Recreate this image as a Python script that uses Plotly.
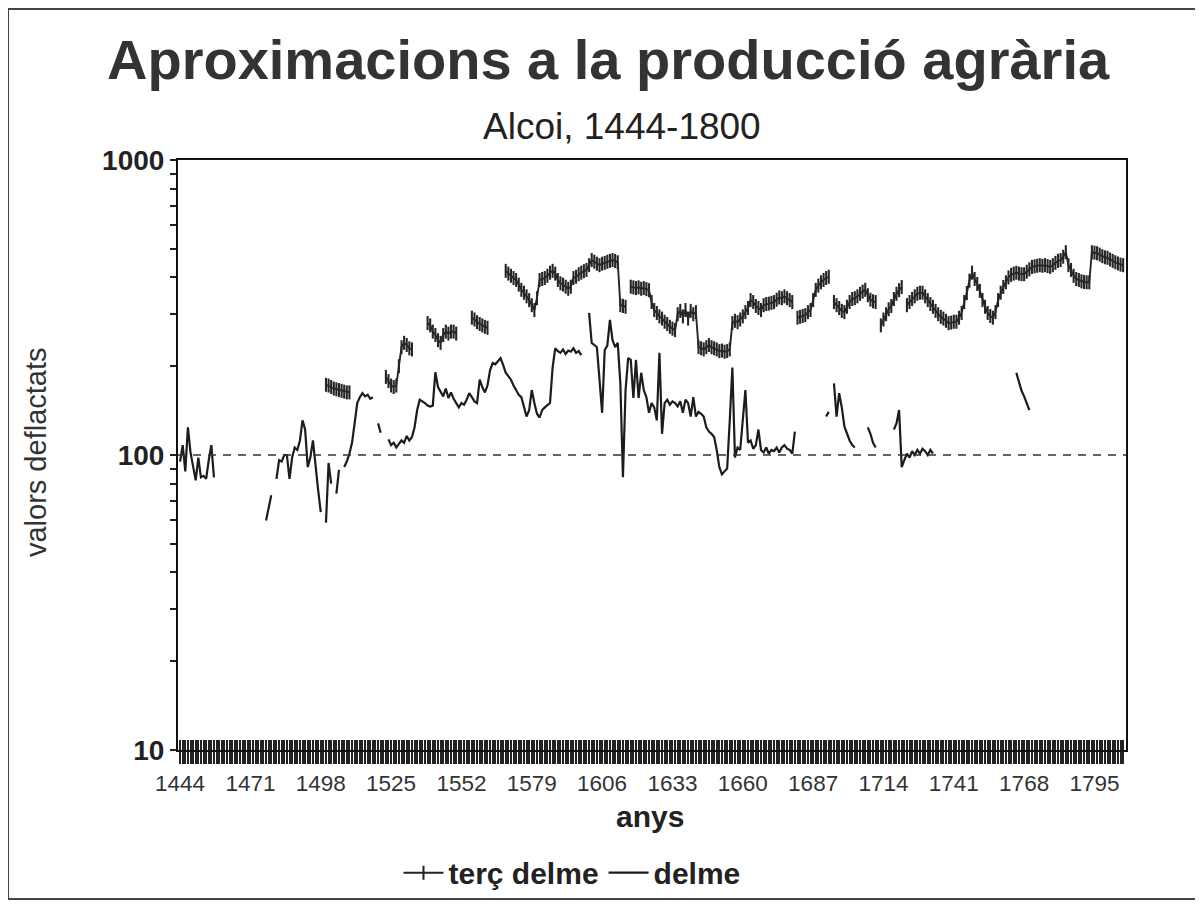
import plotly.graph_objects as go

# ---------------- data ----------------
first_year = 1444
last_year = 1806
label_years = [1444, 1471, 1498, 1525, 1552, 1579, 1606, 1633, 1660, 1687, 1714, 1741, 1768, 1795]
y_major = [10, 100, 1000]
y_minor = [20, 30, 40, 50, 60, 70, 80, 90, 200, 300, 400, 500, 600, 700, 800, 900]
reference_level = 100

# "terç delme" segments: (start year, yearly values)
terc_s1 = (1500, [173, 172, 170, 168, 167, 166, 165, 164, 163, 163])
terc_s2 = (1523, [184, 178, 172, 170, 172, 200, 232, 240, 236, 230, 228])
terc_s3 = (1539, [280, 275, 262, 255, 245, 240, 255, 262, 258, 262, 262, 258])
terc_s4 = (1556, [292, 288, 282, 278, 275, 272, 270])
terc_s5 = (1569, [421, 412, 405, 398, 392, 378, 363, 355, 345, 335,
                  322, 310, 340, 392, 395, 398, 405, 415, 421, 412,
                  392, 382, 378, 372, 366, 372, 398, 402, 410, 415,
                  420, 424, 440, 458, 452, 445, 440, 445, 448, 452,
                  455, 458, 455, 450, 322, 320, 318])
terc_s6 = (1617, [372, 370, 368, 370, 366, 368, 365, 362, 330, 310,
                  303, 295, 290, 283, 278, 272, 268, 265, 300, 308,
                  295, 310, 290, 308, 300, 305])
terc_s7 = (1643, [232, 230, 228, 232, 236, 232, 230, 228, 225, 226,
                  224, 225, 228, 280, 285, 282, 288, 295, 305, 315,
                  335, 330, 320, 315, 310, 322, 325, 326, 328, 330,
                  336, 342, 340, 345, 340, 335, 330])
terc_s8 = (1681, [292, 294, 296, 298, 305, 310, 335, 363, 375, 385, 392, 398, 402])
terc_s9 = (1695, [330, 322, 315, 308, 305, 318, 330, 338, 340, 345, 352, 358, 363, 348, 336, 332, 330])
terc_s10 = (1713, [275, 288, 300, 312, 320, 338, 352, 362, 371])
terc_s11 = (1723, [322, 330, 338, 345, 352, 355, 355, 345, 335, 325,
                   318, 308, 300, 294, 290, 285, 280, 281, 283, 283,
                   292, 303, 330, 354, 390, 415, 395, 380, 360, 335,
                   318, 303, 296, 292, 305, 335, 355, 371, 385, 400,
                   408, 412, 415, 412, 410, 410, 418, 426, 434, 436,
                   438, 440, 438, 440, 437, 434, 440, 448, 455, 458,
                   470, 487, 440, 424, 405, 395, 392, 388, 386, 385,
                   385, 487, 485, 483, 478, 472, 468, 466, 460, 455,
                   450, 446, 442, 440])

# "delme" segments
delme_s1 = (1444, [95, 108, 88, 124, 102, 90, 82, 98, 84, 85, 83, 96, 108, 84])
delme_s2 = (1477, [60, 66, 73])
delme_s3 = (1481, [83, 96, 95, 100, 100, 83, 98, 106, 104, 112, 131, 122, 91, 98, 112, 91, 76, 64])
delme_s4 = (1500, [59, 94, 80])
delme_s5 = (1504, [74, 89])
delme_s6 = (1507, [91, 95, 101, 110, 128, 150, 157, 162, 158, 160, 155, 157])
delme_s7 = (1520, [128, 119])
delme_s8 = (1524, [113, 108, 110, 106, 109, 112, 110, 116, 112, 115,
                   124, 142, 154, 152, 150, 147, 146, 147, 191, 170,
                   163, 158, 168, 156, 163, 155, 150, 145, 150, 148,
                   154, 162, 157, 152, 150, 180, 170, 163, 172, 194,
                   205, 203, 208, 213, 202, 190, 185, 180, 172, 166,
                   160, 157, 145, 135, 142, 166, 150, 138, 134, 142,
                   145, 147, 150, 198, 230, 225, 222, 228, 220, 226,
                   224, 230, 222, 225, 218])
delme_s9 = (1601, [303, 240, 236, 232, 180, 139, 227, 235, 287, 245,
                   232, 240, 175, 84, 166, 213, 210, 156, 210, 156,
                   190, 166, 157, 139, 150, 145, 131, 222, 118, 150,
                   154, 148, 152, 150, 146, 152, 139, 154, 150, 135,
                   157, 135, 140, 138, 135, 124, 120, 118, 115, 104,
                   91, 86, 88, 90, 131, 198, 98, 106, 104, 128,
                   166, 110, 112, 105, 108, 122, 104, 102, 106, 101,
                   104, 103, 106, 102, 106, 108, 105, 104, 101, 120])
delme_s10 = (1692, [135, 140])
delme_s11 = (1695, [175, 135, 162, 145, 125, 118, 112, 108, 106])
delme_s12 = (1708, [124, 118, 110, 106])
delme_s13 = (1718, [122, 128, 142, 91, 96, 101, 98, 103, 100, 104, 101, 105, 103, 100, 104, 101])
delme_s14 = (1765, [190, 178, 165, 158, 150, 142])

terc_segments = [terc_s1, terc_s2, terc_s3, terc_s4, terc_s5, terc_s6,
                 terc_s7, terc_s8, terc_s9, terc_s10, terc_s11]
delme_segments = [delme_s1, delme_s2, delme_s3, delme_s4, delme_s5, delme_s6, delme_s7,
                  delme_s8, delme_s9, delme_s10, delme_s11, delme_s12, delme_s13, delme_s14]

years = list(range(first_year, last_year + 1))


def build(segments):
    vals = {y: None for y in years}
    for start, seg in segments:
        for i, v in enumerate(seg):
            vals[start + i] = v
    return [vals[y] for y in years]


terc = build(terc_segments)
delme = build(delme_segments)

# ---------------- figure ----------------
FONT = "Liberation Sans, Arial, sans-serif"
INK = "#222222"
x_range = [1443.2, 1807.1]

fig = go.Figure()

fig.add_trace(go.Scatter(
    x=x_range, y=[reference_level, reference_level], mode="lines",
    line=dict(color="#333333", width=1.6, dash="8px,7px"),
    showlegend=False, hoverinfo="skip", xaxis="x2", yaxis="y"))

fig.add_trace(go.Scatter(
    x=years, y=terc, name="terç delme", mode="lines+markers",
    line=dict(color="#262626", width=1.9),
    marker=dict(symbol="line-ns", size=10, line=dict(color="#262626", width=2.1)),
    connectgaps=False))

fig.add_trace(go.Scatter(
    x=years, y=delme, name="delme", mode="lines",
    line=dict(color="#1c1c1c", width=2.2),
    connectgaps=False))

ticktext = [str(y) if y in label_years else "" for y in years]
y_ticks = sorted(y_major + y_minor)
y_text = [str(v) if v in y_major else "" for v in y_ticks]

fig.update_layout(
    width=1203, height=904,
    margin=dict(l=170, r=85, t=152, b=162, autoexpand=False),
    paper_bgcolor="white", plot_bgcolor="white",
    font=dict(family=FONT, color=INK),
    xaxis=dict(
        range=x_range, tickmode="array", tickvals=years, ticktext=ticktext,
        ticks="outside", ticklen=12, tickwidth=1.5, tickcolor="#222222",
        tickfont=dict(size=22.5, color="#333333"), tickangle=0,
        showline=True, linecolor="#111111", linewidth=2, mirror=True,
        showgrid=False, zeroline=False),
    xaxis2=dict(
        range=x_range, overlaying="x", anchor="y", side="bottom",
        tickmode="array", tickvals=years, ticks="inside", ticklen=10,
        tickwidth=1.5, tickcolor="#222222", showticklabels=False,
        showline=False, showgrid=False, zeroline=False),
    yaxis=dict(
        type="log", range=[1, 3], tickmode="array", tickvals=y_ticks, ticktext=y_text,
        ticks="outside", ticklen=6, tickwidth=1.5, tickcolor="#222222",
        tickfont=dict(size=28, color=INK, weight="bold"),
        showline=True, linecolor="#111111", linewidth=2, mirror=True,
        showgrid=False, zeroline=False),
    legend=dict(
        orientation="h", x=0.4156, xanchor="center", y=-0.208, yanchor="middle",
        font=dict(size=30, color=INK, weight="bold"), bgcolor="rgba(0,0,0,0)",
        itemwidth=40, tracegroupgap=0),
    showlegend=True,
)

# texts
fig.add_annotation(text="Aproximacions a la producció agrària", xref="paper", yref="paper",
                   x=0.4536, y=1.1695, showarrow=False, xanchor="center", yanchor="middle",
                   font=dict(size=56, color="#333333", family=FONT, weight="bold"))
fig.add_annotation(text="Alcoi, 1444-1800", xref="paper", yref="paper",
                   x=0.468, y=1.056, showarrow=False, xanchor="center", yanchor="middle",
                   font=dict(size=37, color=INK, family=FONT))
fig.add_annotation(text="anys", xref="paper", yref="paper",
                   x=0.498, y=-0.112, showarrow=False, xanchor="center", yanchor="middle",
                   font=dict(size=30, color=INK, family=FONT, weight="bold"))
fig.add_annotation(text="valors deflactats", xref="paper", yref="paper",
                   x=-0.1498, y=0.505, showarrow=False, xanchor="center", yanchor="middle",
                   textangle=-90, font=dict(size=29, color="#333333", family=FONT))

# outer frame of the chart
fig.add_shape(type="rect", xref="paper", yref="paper",
              x0=-0.1793, x1=1.078, y0=-0.2525, y1=1.2559,
              line=dict(color="#444444", width=2), fillcolor="rgba(0,0,0,0)", layer="below")

fig.write_html("out.html")
